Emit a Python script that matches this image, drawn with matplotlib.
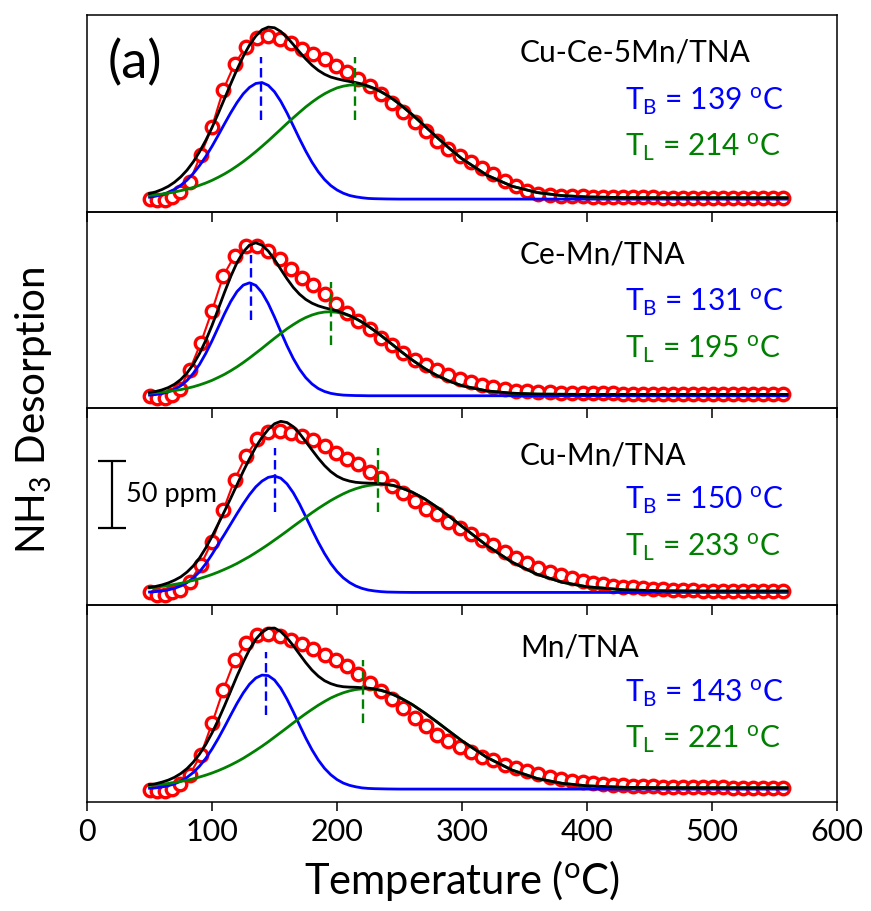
import numpy as np
import matplotlib
matplotlib.use('Agg')
import matplotlib.pyplot as plt

plt.rcParams['font.family'] = 'Lato'
plt.rcParams['mathtext.fontset'] = 'custom'
plt.rcParams['mathtext.rm'] = 'Lato'
plt.rcParams['mathtext.it'] = 'Lato:italic'

# --- data (ppm above baseline) ---
samples = ['Cu-Ce-5Mn/TNA', 'Ce-Mn/TNA', 'Cu-Mn/TNA', 'Mn/TNA']
t_b = [139, 131, 150, 143]
t_l = [214, 195, 233, 221]

# measured points (red circles)
t_meas = [50, 56, 62, 68, 74, 82, 91, 100, 109, 118, 127, 136, 145, 154, 163,
          172, 181, 190, 199, 208, 217, 226, 235, 244, 253, 262, 271, 280,
          289, 298, 307, 316, 325, 334, 343, 352, 361, 370, 379, 388, 397,
          405, 413, 421, 429, 437, 445, 453, 461, 469, 477, 485, 493, 501,
          509, 517, 525, 533, 541, 549, 557]
meas_cucemn = [0, -1, -0.8, 1.5, 5, 12.8, 33, 54, 81.6, 100.8, 113.3, 120,
               121.8, 119.8, 116.3, 112, 108.4, 104.5, 99.7, 94.8, 90, 84.4,
               78.5, 72, 65, 57.5, 50.5, 43.5, 37.7, 32.4, 27.6, 23.4, 18.5,
               13.5, 9.6, 6.3, 4.1, 3, 2.5, 2.2, 2, 1.8, 1.6, 1.5, 1.4, 1.3,
               1.2, 1.2, 1.1, 1.1, 1, 1, 1, 1, 1, 0.9, 0.9, 0.9, 0.8, 0.8, 0.8]
meas_cemn = [-0.5, -1.9, -1.3, 0.7, 5.2, 18.9, 39.4, 63.4, 89.5, 104.5, 112,
             111.8, 108.1, 102.1, 94.6, 88, 82.4, 75.9, 68.5, 61.7, 56, 49.8,
             43.2, 37.6, 32, 26.9, 23, 19.4, 15.8, 12.6, 10.1, 8, 6.2, 4.8,
             3.8, 3.2, 2.8, 2.5, 2.3, 2.1, 2, 1.9, 1.8, 1.7, 1.6, 1.5, 1.5,
             1.4, 1.4, 1.3, 1.3, 1.2, 1.2, 1.2, 1.1, 1.1, 1.1, 1, 1, 1, 1]
meas_cumn = [0.5, -1.6, -2, 0.2, 2, 7.6, 20.6, 38, 61.4, 84, 101.5, 114.2,
             119.5, 120.4, 119.1, 116.6, 114.1, 109.6, 103.8, 99.6, 95.5,
             90.2, 85.2, 79.3, 74, 68.1, 62.6, 58.2, 52.7, 48, 43.7, 38.9,
             35.2, 30.4, 25.7, 21.7, 18.4, 15.6, 13.2, 10.9, 8.7, 7.3, 6.2,
             4.7, 4.3, 3.7, 3.2, 2.8, 2.4, 2, 1.8, 1.6, 1.4, 1.3, 1.2, 1.1, 1,
             1, 0.9, 0.9, 0.9]
meas_mn = [-0.9, -1.7, -1.2, 0.3, 3.6, 10.3, 25.6, 49, 74, 96, 108.7, 115,
           116, 114.5, 111.5, 108.4, 104.5, 100.4, 96.2, 91.6, 86.2, 79.2, 73,
           67, 60.3, 53, 46.8, 40.1, 35.6, 31.4, 27.9, 24.3, 21.4, 18, 15.6,
           13.6, 11.6, 9.2, 7.8, 6.3, 5, 4.3, 3.7, 3.2, 2.9, 2.6, 2.3, 2.1,
           1.9, 1.7, 1.6, 1.5, 1.4, 1.3, 1.2, 1.1, 1, 1, 0.9, 0.9, 0.8]

# fitted components (blue = stronger sites, green = weaker sites)
t_fit = [50, 55, 60, 65, 70, 75, 80, 85, 90, 95, 100, 105, 110, 115, 120,
         125, 130, 135, 140, 145, 150, 155, 160, 165, 170, 175, 180, 185,
         190, 195, 200, 205, 210, 215, 220, 225, 230, 235, 240, 245, 250,
         260, 270, 280, 290, 300, 320, 340, 360, 380, 400, 430, 460, 500, 560]
blue_cucemn = [1.4, 2.2, 3.4, 5.0, 7.3, 10.3, 14.2, 19.1, 25.0, 31.8, 39.4,
               47.7, 56.2, 64.5, 72.1, 78.6, 83.4, 86.3, 87.0, 84.9, 80.1,
               73.0, 64.3, 54.7, 45.0, 35.8, 27.5, 20.4, 14.6, 10.1, 6.8, 4.4,
               2.7, 1.7, 1.0, 0.5, 0.3, 0.2, 0.1, 0.05, 0,
               0, 0, 0, 0, 0, 0, 0, 0, 0, 0, 0, 0, 0, 0]
green_cucemn = [2.8, 3.2, 3.8, 4.5, 5.3, 6.3, 7.4, 8.7, 10.3, 12.0, 14.0,
                16.3, 18.8, 21.6, 24.7, 28.0, 31.6, 35.4, 39.4, 43.5, 47.8,
                52.1, 56.5, 60.7, 64.8, 68.8, 72.4, 75.7, 78.6, 81.0, 83.0,
                84.3, 85.1, 85.3, 84.9, 83.9, 82.3, 80.1, 77.5, 74.4, 71.0,
                63.2, 54.7, 46.1, 37.8, 30.1, 17.8, 9.6, 4.9, 2.6, 1.6, 1.1,
                1, 1, 1]
blue_cemn = [0.5, 0.9, 1.7, 2.9, 4.7, 7.5, 11.4, 16.7, 23.4, 31.6, 41.0,
             51.1, 61.2, 70.4, 77.8, 82.6, 84.3, 82.4, 77.0, 68.8, 58.7, 47.9,
             37.3, 27.8, 19.8, 13.5, 8.8, 5.4, 3.2, 1.8, 1.0, 0.5, 0.3, 0.15,
             0.1, 0, 0, 0, 0, 0, 0,
             0, 0, 0, 0, 0, 0, 0, 0, 0, 0, 0, 0, 0, 0]
green_cemn = [2.0, 2.3, 2.7, 3.2, 3.9, 4.6, 5.6, 6.7, 8.1, 9.7, 11.5, 13.7,
              16.0, 18.7, 21.6, 24.8, 28.2, 31.8, 35.4, 39.2, 42.9, 46.5,
              50.0, 53.1, 56.0, 58.4, 60.3, 61.7, 62.5, 62.7, 62.3, 61.2,
              59.6, 57.5, 54.9, 51.9, 48.6, 45.1, 41.4, 37.7, 33.9,
              26.8, 20.4, 15.1, 10.8, 7.5, 3.6, 1.9, 1.25, 1.1, 1, 1, 1, 1, 1]
blue_cumn = [0.3, 0.6, 1.1, 1.9, 3.1, 4.8, 7.3, 10.8, 15.4, 21.4, 28.4, 36.0,
             43.4, 51.1, 58.8, 66.2, 73.0, 78.8, 83.1, 85.9, 86.8, 85.3,
             81.0, 74.4, 66.0, 56.5, 46.8, 37.5, 29.0, 21.6, 15.6, 10.9, 7.4,
             4.8, 3.0, 1.8, 1.1, 0.6, 0.3, 0.2, 0.1,
             0, 0, 0, 0, 0, 0, 0, 0, 0, 0, 0, 0, 0, 0]
green_cumn = [3.4, 3.9, 4.5, 5.2, 6.0, 6.8, 7.9, 9.0, 10.3, 11.8, 13.4, 15.2,
              17.2, 19.3, 21.6, 24.2, 26.8, 29.7, 32.7, 35.8, 39.1, 42.4,
              45.8, 49.3, 52.7, 56.1, 59.5, 62.7, 65.7, 68.6, 71.2, 73.6,
              75.7, 77.4, 78.8, 79.8, 80.4, 80.6, 80.4, 79.7, 78.5,
              74.9, 69.9, 63.6, 56.6, 49.3, 34.9, 22.6, 13.5, 7.6, 4.2, 1.9,
              1.2, 1, 1]
blue_mn = [0.6, 0.9, 1.6, 2.5, 3.9, 5.9, 8.7, 12.4, 17.1, 22.9, 29.9, 37.8,
           46.4, 55.3, 64.0, 71.8, 78.3, 82.9, 85.1, 84.7, 81.4, 75.3, 67.1,
           57.7, 47.8, 38.1, 29.3, 21.7, 15.5, 10.7, 7.1, 4.5, 2.8, 1.7, 0.9,
           0.5, 0.3, 0.2, 0.1, 0.05, 0,
           0, 0, 0, 0, 0, 0, 0, 0, 0, 0, 0, 0, 0, 0]
green_mn = [2.7, 3.1, 3.6, 4.2, 4.9, 5.7, 6.6, 7.7, 9.0, 10.4, 12.0, 13.8,
            15.8, 18.0, 20.4, 23.0, 25.9, 28.9, 32.0, 35.3, 38.8, 42.3, 45.8,
            49.4, 52.9, 56.3, 59.5, 62.6, 65.4, 68.0, 70.1, 71.9, 73.3, 74.3,
            74.8, 74.9, 74.4, 73.6, 72.3, 70.5, 68.4,
            63.2, 56.9, 50.1, 43, 36, 23.6, 14.2, 7.9, 4.3, 2.4, 1.3, 1.05,
            1, 1]

meas = [meas_cucemn, meas_cemn, meas_cumn, meas_mn]
blues = [blue_cucemn, blue_cemn, blue_cumn, blue_mn]
greens = [green_cucemn, green_cemn, green_cumn, green_mn]

# --- layout bits (ppm / degC positions) ---
name_y = [102.5, 98.9, 95.4, 98.8]
tb_y = [66.5, 62.8, 61.8, 65.2]
tl_y = [31.7, 28.0, 27.0, 30.5]
dash_b = [(59, 106), (56.5, 105), (60, 107.5), (55.5, 102.7)]
dash_l = [(59, 106), (38, 85), (60, 107.5), (49.3, 96.5)]

fig, axes = plt.subplots(4, 1, sharex=True, figsize=(8.71, 9.11), dpi=100)
plt.subplots_adjust(left=0.0999, right=0.961, bottom=0.12, top=0.9835,
                    hspace=0)

for i, ax in enumerate(axes):
    ax.patch.set_visible(False)
    ax.plot(t_meas, meas[i], '-o', color='red', lw=1.5, ms=9, mew=2.4,
            mfc='white', mec='red', zorder=2)
    b = np.array(blues[i])
    g = np.array(greens[i])
    ax.plot(t_fit, b, color='blue', lw=2, zorder=3)
    ax.plot(t_fit, g, color='green', lw=2, zorder=4)
    ax.plot(t_fit, b + g, color='black', lw=2, zorder=5)
    ax.plot([t_b[i], t_b[i]], dash_b[i], color='blue', lw=1.7,
            dashes=(4, 2), zorder=6)
    ax.plot([t_l[i], t_l[i]], dash_l[i], color='green', lw=1.7,
            dashes=(4, 2), zorder=6)

    ax.text(346.4, name_y[i], samples[i], fontsize=21.5, color='black',
            va='baseline', ha='left')
    ax.text(430.4, tb_y[i], r'T$_\mathrm{B}$ = %d $^\mathrm{o}$C' % t_b[i],
            fontsize=21.5, color='blue', va='baseline', ha='left')
    ax.text(430.4, tl_y[i], r'T$_\mathrm{L}$ = %d $^\mathrm{o}$C' % t_l[i],
            fontsize=21.5, color='green', va='baseline', ha='left')

    ax.set_xlim(0, 600)
    ax.set_ylim(-9.4, 137.4)
    ax.set_yticks([])
    for s in ax.spines.values():
        s.set_linewidth(1.1)
    ax.set_xticks([0, 100, 200, 300, 400, 500, 600])
    # bottom ticks pointing out -> look like inward top ticks of next panel
    ax.tick_params(axis='x', direction='out', length=7, width=1.1,
                   top=False, bottom=True, labelsize=22, pad=5)

axes[3].tick_params(axis='x', length=6.5)

axes[0].text(38.4, 101.6, '(a)', fontsize=38, ha='center', va='center')

# 50 ppm scale bar
axes[2].errorbar([20], [73], yerr=[25], color='black', lw=1.6, capsize=10,
                 capthick=1.6)
axes[2].text(31.5, 73, '50 ppm', fontsize=19.5, ha='left', va='center')

fig.text(0.038, 0.55, r'NH$_3$ Desorption', rotation=90, fontsize=29,
         ha='center', va='center')
fig.text(0.5305, 0.034, r'Temperature ($^\mathrm{o}$C)', fontsize=30,
         ha='center', va='center')

plt.savefig('out.png', dpi=100)
